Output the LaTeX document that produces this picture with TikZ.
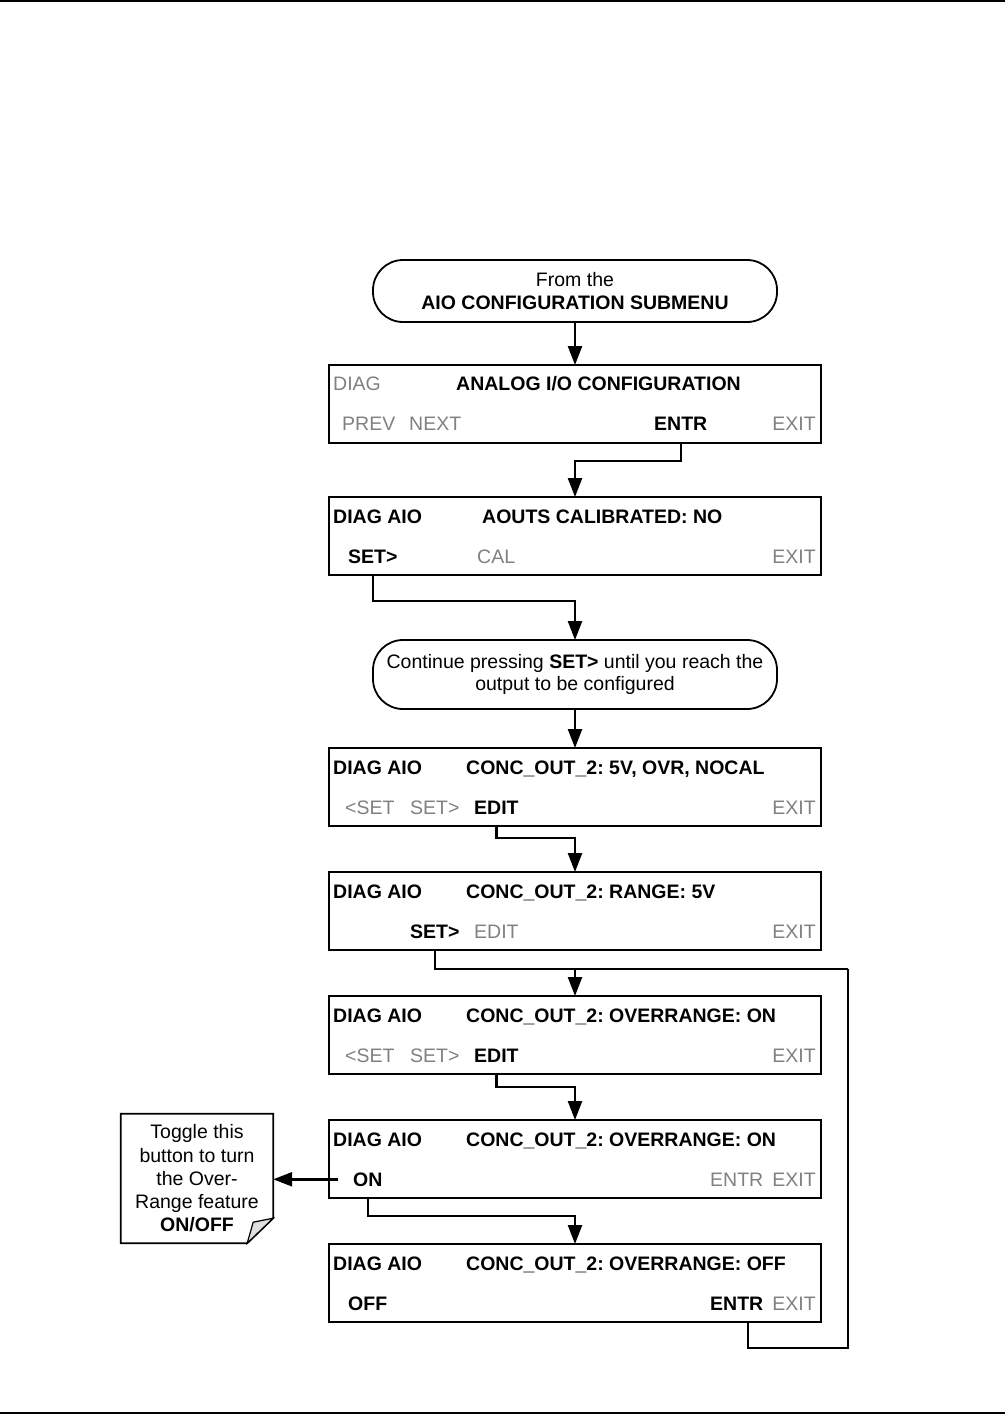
\documentclass[tikz,border=0pt]{standalone}
\usepackage{fontspec}
\setmainfont{Liberation Sans}
\usetikzlibrary{positioning,arrows.meta}

\begin{document}
\frenchspacing
\begin{tikzpicture}[x=1pt, y=1pt,
    screen/.style = {draw, line width=1.8pt, minimum width=492pt, minimum height=78pt, inner sep=0pt, outer sep=0pt},
    oval/.style = {draw, line width=1.8pt, rounded corners=30pt, minimum width=404pt, align=center, inner sep=0pt, outer sep=0pt, font=\fontsize{19.5}{22.5}\selectfont},
    txt/.style = {inner sep=0pt, font=\fontsize{19.5}{23.2}\selectfont},
    key/.style = {txt, font=\fontsize{19.5}{23.2}\selectfont\bfseries},
    dim/.style = {txt, text=gray},
    wire/.style = {line width=2.4pt},
    link/.style = {wire, -{Triangle[length=19pt,width=14pt]}}]
    \useasboundingbox (0,0) rectangle (1005,-1416);
    % page rules
    \draw[line width=1.5pt] (0,-1) -- (1005,-1);
    \draw[line width=1.5pt] (0,-1413) -- (1005,-1413);

    \node[oval, minimum height=62pt] (start) at (575,-291) {From the\\\textbf{AIO CONFIGURATION SUBMENU}};

    \node[screen] (b1) [below=43pt of start] {};
    \node[dim, anchor=base west] (diag1) at ([shift={(4,-25)}]b1.north west) {DIAG};
    \node[key, anchor=base west] (title1) at ([shift={(127,-25)}]b1.north west) {ANALOG I/O CONFIGURATION};
    \node[dim, anchor=base west] (prev1) at ([shift={(13,-65)}]b1.north west) {PREV};
    \node[dim, anchor=base west] (next1) at ([shift={(80,-65)}]b1.north west) {NEXT};
    \node[key, anchor=base west] (entr1) at ([shift={(325,-65)}]b1.north west) {ENTR};
    \node[dim, anchor=base east] (exit1) at ([shift={(-5,-65)}]b1.north east) {EXIT};

    \node[screen] (b2) [below=54pt of b1] {};
    \node[key, anchor=base west] (diag2) at ([shift={(4,-26)}]b2.north west) {DIAG AIO};
    \node[key, anchor=base west] (title2) at ([shift={(153,-26)}]b2.north west) {AOUTS CALIBRATED: NO};
    \node[key, anchor=base west] (set2) at ([shift={(19,-66)}]b2.north west) {SET>};
    \node[dim, anchor=base west] (cal2) at ([shift={(148,-66)}]b2.north west) {CAL};
    \node[dim, anchor=base east] (exit2) at ([shift={(-5,-66)}]b2.north east) {EXIT};

    \node[oval, minimum height=69pt] (start2) [below=65pt of b2] {Continue pressing \textbf{SET>} until you reach the\\output to be configured};

    \node[screen] (b3) [below=39pt of start2] {};
    \node[key, anchor=base west] (diag3) at ([shift={(4,-26)}]b3.north west) {DIAG AIO};
    \node[key, anchor=base west] (title3) at ([shift={(137,-26)}]b3.north west) {CONC\_OUT\_2: 5V, OVR, NOCAL};
    \node[dim, anchor=base west] (back3) at ([shift={(16,-66)}]b3.north west) {<SET};
    \node[dim, anchor=base west] (fwd3) at ([shift={(81,-66)}]b3.north west) {SET>};
    \node[key, anchor=base west] (edit3) at ([shift={(145,-66)}]b3.north west) {EDIT};
    \node[dim, anchor=base east] (exit3) at ([shift={(-5,-66)}]b3.north east) {EXIT};

    \node[screen] (b4) [below=46pt of b3] {};
    \node[key, anchor=base west] (diag4) at ([shift={(4,-26)}]b4.north west) {DIAG AIO};
    \node[key, anchor=base west] (title4) at ([shift={(137,-26)}]b4.north west) {CONC\_OUT\_2: RANGE: 5V};
    \node[key, anchor=base west] (set4) at ([shift={(81,-66)}]b4.north west) {SET>};
    \node[dim, anchor=base west] (edit4) at ([shift={(145,-66)}]b4.north west) {EDIT};
    \node[dim, anchor=base east] (exit4) at ([shift={(-5,-66)}]b4.north east) {EXIT};

    \node[screen] (b5) [below=46pt of b4] {};
    \node[key, anchor=base west] (diag5) at ([shift={(4,-26)}]b5.north west) {DIAG AIO};
    \node[key, anchor=base west] (title5) at ([shift={(137,-26)}]b5.north west) {CONC\_OUT\_2: OVERRANGE: ON};
    \node[dim, anchor=base west] (back5) at ([shift={(16,-66)}]b5.north west) {<SET};
    \node[dim, anchor=base west] (fwd5) at ([shift={(81,-66)}]b5.north west) {SET>};
    \node[key, anchor=base west] (edit5) at ([shift={(145,-66)}]b5.north west) {EDIT};
    \node[dim, anchor=base east] (exit5) at ([shift={(-5,-66)}]b5.north east) {EXIT};

    \node[screen] (b6) [below=46pt of b5] {};
    \node[key, anchor=base west] (diag6) at ([shift={(4,-26)}]b6.north west) {DIAG AIO};
    \node[key, anchor=base west] (title6) at ([shift={(137,-26)}]b6.north west) {CONC\_OUT\_2: OVERRANGE: ON};
    \node[key, anchor=base west] (on6) at ([shift={(24,-66)}]b6.north west) {ON};
    \node[dim, anchor=base west] (entr6) at ([shift={(381,-66)}]b6.north west) {ENTR};
    \node[dim, anchor=base east] (exit6) at ([shift={(-5,-66)}]b6.north east) {EXIT};

    \node[screen] (b7) [below=46pt of b6] {};
    \node[key, anchor=base west] (diag7) at ([shift={(4,-26)}]b7.north west) {DIAG AIO};
    \node[key, anchor=base west] (title7) at ([shift={(137,-26)}]b7.north west) {CONC\_OUT\_2: OVERRANGE: OFF};
    \node[key, anchor=base west] (off7) at ([shift={(19,-66)}]b7.north west) {OFF};
    \node[key, anchor=base west] (entr7) at ([shift={(381,-66)}]b7.north west) {ENTR};
    \node[dim, anchor=base east] (exit7) at ([shift={(-5,-66)}]b7.north east) {EXIT};

    % note with folded corner
    \node[txt, align=center, minimum width=152pt, minimum height=129pt] (note) at (197,-1178.5) {Toggle this\\button to turn\\the Over-\\Range feature\\\textbf{ON/OFF}};
    \draw[line width=1.8pt] (note.north west) -- (note.north east) -- ([yshift=25]note.south east) -- ([xshift=-26]note.south east) -- (note.south west) -- cycle;
    \filldraw[fill=gray!25, line width=1.2pt] ([xshift=-26]note.south east) -- ([shift={(-20,21)}]note.south east) -- ([yshift=25]note.south east) -- cycle;

    % connectors
    \draw[link] (start) -- (b1);
    \draw[link] (entr1.south |- b1.south) -- ++(0,-18) -| (b2.north);
    \draw[link] (set2.south |- b2.south) -- ++(0,-26) -| (start2.north);
    \draw[link] (start2) -- (b3);
    \draw[link] (edit3.south |- b3.south) -- ++(0,-12) -| (b4.north);
    \coordinate (loop) at ([shift={(27,-19)}]b4.south east);
    \draw[wire] (set4.south |- b4.south) |- (loop);
    \draw[wire] ([xshift=11]entr7.south |- b7.south) -- ++(0,-26) -| (loop);
    \draw[link] (b5.north |- loop) -- (b5.north);
    \draw[link] (edit5.south |- b5.south) -- ++(0,-13) -| (b6.north);
    \draw[link] (on6.south |- b6.south) -- ++(0,-18) -| (b7.north);
    \draw[link] ([xshift=-15]on6.west) -- (note.east |- on6.west);
\end{tikzpicture}
\end{document}
